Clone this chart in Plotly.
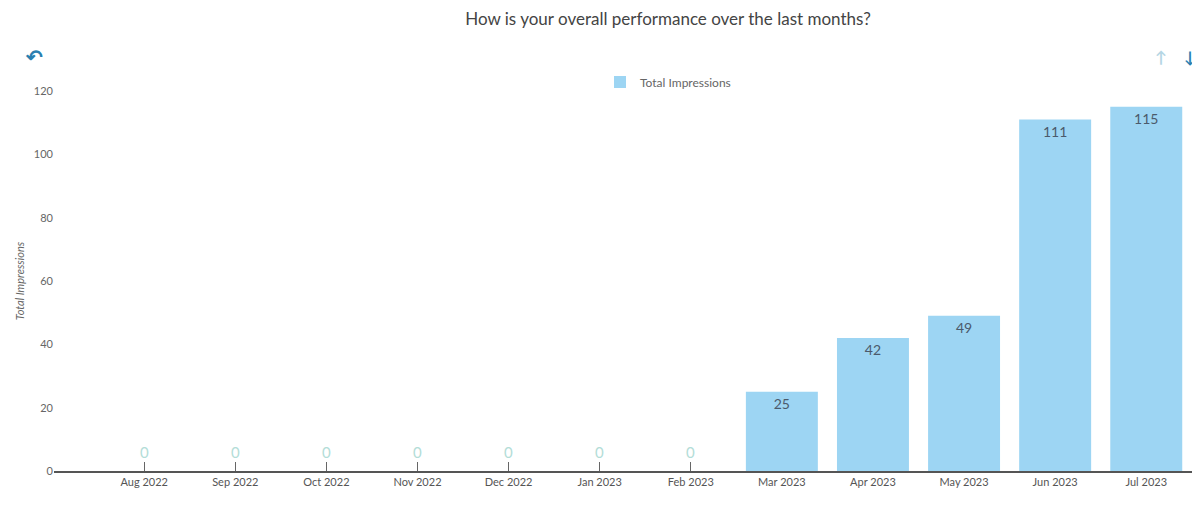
import plotly.graph_objects as go

months = ["Aug 2022", "Sep 2022", "Oct 2022", "Nov 2022", "Dec 2022", "Jan 2023",
          "Feb 2023", "Mar 2023", "Apr 2023", "May 2023", "Jun 2023", "Jul 2023"]
impressions = [0, 0, 0, 0, 0, 0, 0, 25, 42, 49, 111, 115]
y_ticks = [0, 20, 40, 60, 80, 100, 120]

FONT = "Lato, 'Open Sans', sans-serif"
BAR = "#9dd5f3"

# page body has an 8px margin: work in figure coordinates = screen - 8
OFF = 8
FW, FH = 1200 - OFF, 505 - OFF
PL, PR = 54 - OFF, 1200 - OFF
PT, PB = 91 - OFF, 471 - OFF
W = PR - PL
H = PB - PT


def px_x(p):
    return (p - OFF - PL) / W


def px_y(p):
    return (PB - (p - OFF)) / H


fig = go.Figure()
fig.add_trace(go.Bar(
    x=months, y=impressions, name="Total Impressions",
    marker=dict(color=BAR, line=dict(width=0)),
    width=0.79,
    text=[str(v) if v != 0 else "" for v in impressions],
    textposition="inside",
    insidetextanchor="end",
    textfont=dict(color="#4b5a6b", size=14, family=FONT),
    constraintext="none",
    showlegend=True,
))

# zero-value labels sit above the axis
for m, v in zip(months, impressions):
    if v == 0:
        fig.add_annotation(x=m, y=v, xref="x", yref="y", text=str(v), showarrow=False,
                           yshift=19, font=dict(size=15, color="#b3ddd8", family=FONT))

fig.update_layout(
    width=FW, height=FH,
    margin=dict(l=PL, r=FW - PR, t=PT, b=FH - PB),
    paper_bgcolor="white", plot_bgcolor="white",
    font=dict(family=FONT, color="#555"),
    title=dict(text="How is your overall performance over the last months?",
               x=(668 - OFF) / FW, xanchor="center", xref="container",
               y=1 - (19 - OFF) / FH, yanchor="middle", yref="container",
               font=dict(size=17, color="#444", family=FONT)),
    legend=dict(orientation="h", x=px_x(668), xanchor="center",
                y=px_y(82), yanchor="middle",
                font=dict(size=12, color="#666", family=FONT),
                bgcolor="rgba(0,0,0,0)"),
    showlegend=True,
)
fig.update_xaxes(
    type="category", categoryorder="array", categoryarray=months,
    range=[-0.99, 11.59],
    showline=True, linecolor="#555", linewidth=1.5,
    ticks="inside", ticklen=9, tickcolor="#666", tickwidth=1,
    showgrid=False, zeroline=False,
    tickfont=dict(size=11, color="#555", family=FONT),
    layer="below traces",
    fixedrange=True,
)
fig.update_yaxes(
    range=[0, 120], tickvals=y_ticks,
    showline=False, showgrid=False, zeroline=False,
    tickfont=dict(size=11, color="#666", family=FONT),
    title=dict(text="<i>Total Impressions</i>", font=dict(size=11, color="#666", family=FONT),
               standoff=7),
    fixedrange=True,
)

# toolbar-like icons
fig.add_annotation(text="<b>↶</b>", x=px_x(34), y=px_y(56), xref="paper", yref="paper",
                   showarrow=False, font=dict(size=20, color="#2a7fb0"), xanchor="center", yanchor="middle")
fig.add_annotation(text="<b>↑</b>", x=px_x(1161), y=px_y(56), xref="paper", yref="paper",
                   showarrow=False, font=dict(size=16, color="#b5d6e4"), xanchor="center", yanchor="middle")
fig.add_annotation(text="<b>↓</b>", x=px_x(1190), y=px_y(56), xref="paper", yref="paper",
                   showarrow=False, font=dict(size=16, color="#2a7fb0"), xanchor="center", yanchor="middle")

fig.write_html("out.html", config={"displayModeBar": False})
